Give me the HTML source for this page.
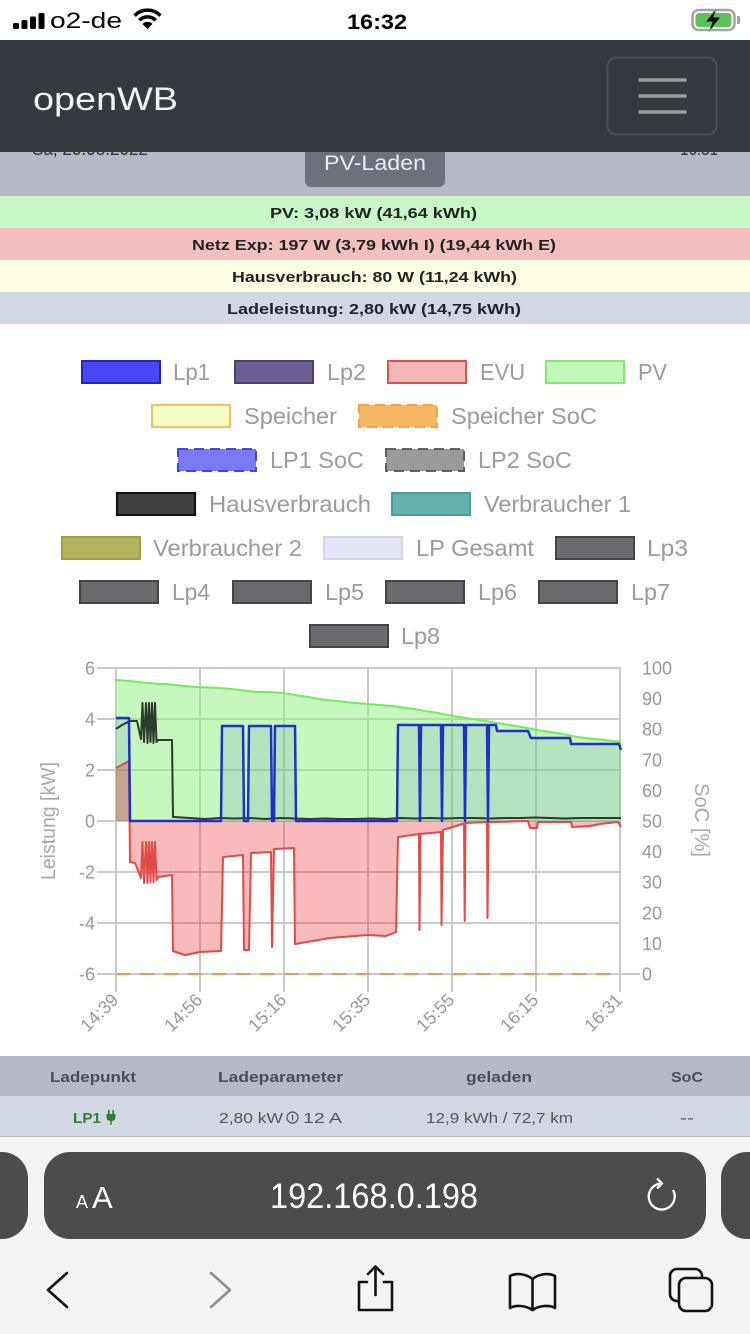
<!DOCTYPE html>
<html><head><meta charset="utf-8"><style>
html,body{margin:0;padding:0;background:#fff;}
svg{display:block;}
text{font-family:"Liberation Sans",sans-serif;}
</style></head><body>
<svg width="750" height="1334" viewBox="0 0 750 1334" xmlns="http://www.w3.org/2000/svg">
<!-- status bar -->
<rect x="0" y="0" width="750" height="40" fill="#fff"/>
<rect x="13" y="23" width="6" height="6" rx="1.5" fill="#000"/>
<rect x="21.5" y="20" width="6" height="9" rx="1.5" fill="#000"/>
<rect x="30" y="16.5" width="6" height="12.5" rx="1.5" fill="#000"/>
<rect x="38.5" y="13" width="6" height="16" rx="1.5" fill="#000"/>
<text x="50" y="28" font-size="22" textLength="72" lengthAdjust="spacingAndGlyphs" fill="#000">o2-de</text>
<path d="M147.5,29 L142.5,24 A7,7 0 0,1 152.5,24 Z" fill="#000"/>
<path d="M139.3,20.3 A11.5,11.5 0 0,1 155.7,20.3" stroke="#000" stroke-width="3.5" fill="none"/>
<path d="M134.6,15.6 A18,18 0 0,1 160.4,15.6" stroke="#000" stroke-width="3.5" fill="none"/>
<text x="347" y="29" font-size="21" font-weight="bold" textLength="60" lengthAdjust="spacingAndGlyphs" fill="#000">16:32</text>
<rect x="692.5" y="10" width="42" height="20" rx="6" fill="none" stroke="#a3a3a3" stroke-width="2.5"/>
<rect x="695.5" y="13" width="36" height="14" rx="3.5" fill="#5cc05c"/>
<path d="M737,16 h1.5 a1.5,1.5 0 0 1 1.5,1.5 v5 a1.5,1.5 0 0 1 -1.5,1.5 h-1.5 z" fill="#a3a3a3"/>
<path d="M716,9 L705,22 L712,22 L709,32 L721,17 L714,17 Z" fill="#000" stroke="#5cc05c" stroke-width="1"/>

<!-- gray bar + hidden date -->
<rect x="0" y="140" width="750" height="56" fill="#b6bac8"/>
<text x="32" y="155" font-size="18" fill="#333" textLength="116" lengthAdjust="spacingAndGlyphs">Sa, 20.08.2022</text>
<text x="680" y="155" font-size="18" fill="#333" textLength="38" lengthAdjust="spacingAndGlyphs">16:31</text>
<rect x="305" y="120" width="140" height="67" rx="6" fill="#6c717c"/>
<text x="324" y="170" font-size="21" fill="#eceded" textLength="102" lengthAdjust="spacingAndGlyphs">PV-Laden</text>

<!-- header -->
<rect x="0" y="40" width="750" height="112" fill="#343a40"/>
<text x="33" y="110" font-size="32" fill="#f4f4f4" textLength="145" lengthAdjust="spacingAndGlyphs">openWB</text>
<rect x="607.5" y="57.5" width="109" height="77" rx="9" fill="none" stroke="#4c5258" stroke-width="2"/>
<line x1="640" y1="80" x2="685" y2="80" stroke="#9a9c9f" stroke-width="3.5" stroke-linecap="round"/>
<line x1="640" y1="96" x2="685" y2="96" stroke="#9a9c9f" stroke-width="3.5" stroke-linecap="round"/>
<line x1="640" y1="112" x2="685" y2="112" stroke="#9a9c9f" stroke-width="3.5" stroke-linecap="round"/>

<!-- info bars -->
<rect x="0" y="196" width="750" height="32" fill="#c8f8c5"/>
<rect x="0" y="228" width="750" height="32" fill="#f3bfbf"/>
<rect x="0" y="260" width="750" height="32" fill="#fefee2"/>
<rect x="0" y="292" width="750" height="32" fill="#d1d7e4"/>
<g font-size="15" font-weight="bold" fill="#1f2326">
<text x="270" y="218" textLength="207" lengthAdjust="spacingAndGlyphs">PV: 3,08 kW (41,64 kWh)</text>
<text x="192" y="250" textLength="364" lengthAdjust="spacingAndGlyphs">Netz Exp: 197 W (3,79 kWh I) (19,44 kWh E)</text>
<text x="232" y="282" textLength="285" lengthAdjust="spacingAndGlyphs">Hausverbrauch: 80 W (11,24 kWh)</text>
<text x="227" y="314" textLength="294" lengthAdjust="spacingAndGlyphs">Ladeleistung: 2,80 kW (14,75 kWh)</text>
</g>

<!-- legend -->
<g stroke-width="2">
<rect x="82" y="361" width="78" height="22" fill="#4848f4" stroke="#2424c4"/>
<rect x="235" y="361" width="78" height="22" fill="#6a5e94" stroke="#4a4070"/>
<rect x="388" y="361" width="78" height="22" fill="#f4b8b8" stroke="#e05050"/>
<rect x="546" y="361" width="78" height="22" fill="#c2f8b8" stroke="#84e874"/>
<rect x="152" y="405" width="78" height="22" fill="#f9fcc2" stroke="#f0c064"/>
<rect x="359" y="405" width="78" height="22" fill="#f4b862" stroke="#f0a444" stroke-dasharray="10,6"/>
<rect x="178" y="449" width="78" height="22" fill="#7a7af6" stroke="#4444e4" stroke-dasharray="10,6"/>
<rect x="386" y="449" width="78" height="22" fill="#9a9a9a" stroke="#606060" stroke-dasharray="10,6"/>
<rect x="117" y="493" width="78" height="22" fill="#404040" stroke="#111"/>
<rect x="392" y="493" width="78" height="22" fill="#66b0b0" stroke="#44a0a0"/>
<rect x="62" y="537" width="78" height="22" fill="#b4b460" stroke="#a0a040"/>
<rect x="324" y="537" width="78" height="22" fill="#e4e4fa" stroke="#d4d4e4"/>
<rect x="556" y="537" width="78" height="22" fill="#6a6a6e" stroke="#454548"/>
<rect x="80" y="581" width="78" height="22" fill="#6a6a6e" stroke="#454548"/>
<rect x="233" y="581" width="78" height="22" fill="#6a6a6e" stroke="#454548"/>
<rect x="386" y="581" width="78" height="22" fill="#6a6a6e" stroke="#454548"/>
<rect x="539" y="581" width="78" height="22" fill="#6a6a6e" stroke="#454548"/>
<rect x="310" y="625" width="78" height="22" fill="#6a6a6e" stroke="#454548"/>
</g>
<g font-size="23" fill="#9b9b9b">
<text x="173" y="380" textLength="37" lengthAdjust="spacingAndGlyphs">Lp1</text>
<text x="327" y="380" textLength="39" lengthAdjust="spacingAndGlyphs">Lp2</text>
<text x="480" y="380" textLength="45" lengthAdjust="spacingAndGlyphs">EVU</text>
<text x="638" y="380" textLength="29" lengthAdjust="spacingAndGlyphs">PV</text>
<text x="244" y="424" textLength="93" lengthAdjust="spacingAndGlyphs">Speicher</text>
<text x="451" y="424" textLength="146" lengthAdjust="spacingAndGlyphs">Speicher SoC</text>
<text x="270" y="468" textLength="94" lengthAdjust="spacingAndGlyphs">LP1 SoC</text>
<text x="478" y="468" textLength="94" lengthAdjust="spacingAndGlyphs">LP2 SoC</text>
<text x="209" y="512" textLength="162" lengthAdjust="spacingAndGlyphs">Hausverbrauch</text>
<text x="484" y="512" textLength="147" lengthAdjust="spacingAndGlyphs">Verbraucher 1</text>
<text x="153" y="556" textLength="149" lengthAdjust="spacingAndGlyphs">Verbraucher 2</text>
<text x="416" y="556" textLength="118" lengthAdjust="spacingAndGlyphs">LP Gesamt</text>
<text x="647" y="556" textLength="41" lengthAdjust="spacingAndGlyphs">Lp3</text>
<text x="172" y="600" textLength="38" lengthAdjust="spacingAndGlyphs">Lp4</text>
<text x="325" y="600" textLength="39" lengthAdjust="spacingAndGlyphs">Lp5</text>
<text x="478" y="600" textLength="39" lengthAdjust="spacingAndGlyphs">Lp6</text>
<text x="631" y="600" textLength="39" lengthAdjust="spacingAndGlyphs">Lp7</text>
<text x="401" y="644" textLength="39" lengthAdjust="spacingAndGlyphs">Lp8</text>
</g>

<!-- chart grid -->
<g stroke="#cacaca" stroke-width="2">
<line x1="97" y1="668" x2="621" y2="668"/>
<line x1="97" y1="719" x2="621" y2="719"/>
<line x1="97" y1="770" x2="621" y2="770"/>
<line x1="97" y1="821" x2="621" y2="821"/>
<line x1="97" y1="872" x2="621" y2="872"/>
<line x1="97" y1="923" x2="621" y2="923"/>
<line x1="97" y1="974" x2="640" y2="974"/>
<line x1="116" y1="668" x2="116" y2="992"/>
<line x1="200" y1="668" x2="200" y2="992"/>
<line x1="284" y1="668" x2="284" y2="992"/>
<line x1="368" y1="668" x2="368" y2="992"/>
<line x1="452" y1="668" x2="452" y2="992"/>
<line x1="536" y1="668" x2="536" y2="992"/>
<line x1="620" y1="668" x2="620" y2="992"/>
</g>

<!-- fills -->
<polygon fill="rgba(140,240,128,0.5)" points="116,821 116,680 122,680.5 128,681 135,681.5 142,682.5 150,683 158,684 166,684 175,685 185,686 197,687 208,687.5 220,688 232,689 244,690.5 256,692 268,692 283,693 292,694.5 302,696 314,698 326,700 338,701 350,702.5 362,703.5 368,704 380,705 392,706 403,707.5 414,709 425,711 438,713 453,716 466,718 480,720 494,722.5 510,725 524,727.5 537,730 550,732 563,734 577,737 590,738.5 605,740 621,742 621,821"/>
<polygon fill="rgba(30,60,200,0.1)" points="116,821 116,718 129,718 130,821 221,821 222,726 243,726 244,821 248,821 249,726 271,726 272,821 274,821 275,726 295,726 296,821 397,821 398,725 419,725 420,821 421,725 441,725 442,821 443,725 464,725 465,821 466,725 487,725 488,821 489,725 496,725 497,731 528,731 531,738 570,738 571,744 619,744 621,750 621,821"/>
<polygon fill="rgba(232,40,40,0.32)" points="116,821 116,768 129,761 130,862 135,863 141,878 142.5,842 144,883 146,842 147.5,883 149,842 150.5,882 152,842 153.5,882 155,842 156.5,880 158,877 172,875 173,951 185,955 200,952 221,951 223,857 243,855 244,950 249,950 251,853 271,852 272,947 274,849 294,848 295,944 330,938 368,935 386,936 396,932 398,837 419,834 419.5,930 420.5,834 441,832 441.5,925 443,830 464,823.5 464.7,921 465.5,823 487,822 487.5,918 488.5,822 496,822 528,821 530,828 537,828 538,822 571,822 572,827 590,826 600,824 618,822 621,827 621,821"/>

<!-- soc dashed -->
<line x1="116" y1="974" x2="620" y2="974" stroke="#e8985a" stroke-width="2" stroke-dasharray="14,10"/>

<!-- lines -->
<polyline fill="none" stroke="#74ea60" stroke-width="2" points="116,680 122,680.5 128,681 135,681.5 142,682.5 150,683 158,684 166,684 175,685 185,686 197,687 208,687.5 220,688 232,689 244,690.5 256,692 268,692 283,693 292,694.5 302,696 314,698 326,700 338,701 350,702.5 362,703.5 368,704 380,705 392,706 403,707.5 414,709 425,711 438,713 453,716 466,718 480,720 494,722.5 510,725 524,727.5 537,730 550,732 563,734 577,737 590,738.5 605,740 621,742"/>
<polyline fill="none" stroke="#e24a48" stroke-width="2" stroke-linejoin="round" points="116,768 129,761 130,862 135,863 141,878 142.5,842 144,883 146,842 147.5,883 149,842 150.5,882 152,842 153.5,882 155,842 156.5,880 158,877 172,875 173,951 185,955 200,952 221,951 223,857 243,855 244,950 249,950 251,853 271,852 272,947 274,849 294,848 295,944 330,938 368,935 386,936 396,932 398,837 419,834 419.5,930 420.5,834 441,832 441.5,925 443,830 464,823.5 464.7,921 465.5,823 487,822 487.5,918 488.5,822 496,822 528,821 530,828 537,828 538,822 571,822 572,827 590,826 600,824 618,822 621,827"/>
<polyline fill="none" stroke="#2c3a2c" stroke-width="2" stroke-linejoin="round" points="116,729 122,725 130,721 137,721 141,739 142.5,703 144,742 146,703 147.5,743 149,703 150.5,742 152,703 153.5,743 155,703 156.5,742 158,740 172,740 173,817 190,818 205,819 220,818 235,818.5 250,818 265,819 280,818 295,818.5 310,819 325,818.5 340,819 355,819 370,818.5 385,819 400,818 415,818.5 430,818 445,818.5 460,818 475,818 490,818.5 505,818 520,818 535,817.5 550,818 565,818.5 580,818 595,818 610,818 621,818"/>
<polyline fill="none" stroke="#2030c6" stroke-width="2.5" stroke-linejoin="round" points="116,718 129,718 130,821 221,821 222,726 243,726 244,821 248,821 249,726 271,726 272,821 274,821 275,726 295,726 296,821 397,821 398,725 419,725 420,821 421,725 441,725 442,821 443,725 464,725 465,821 466,725 487,725 488,821 489,725 496,725 497,731 528,731 531,738 570,738 571,744 619,744 621,750"/>

<!-- axis labels -->
<g font-size="18" fill="#999" text-anchor="end">
<text x="95" y="674.5">6</text>
<text x="95" y="725.5">4</text>
<text x="95" y="776.5">2</text>
<text x="95" y="827.5">0</text>
<text x="95" y="878.5">-2</text>
<text x="95" y="929.5">-4</text>
<text x="95" y="980.5">-6</text>
</g>
<g font-size="18" fill="#999">
<text x="642" y="674.5">100</text>
<text x="642" y="705.1">90</text>
<text x="642" y="735.7">80</text>
<text x="642" y="766.3">70</text>
<text x="642" y="796.9">60</text>
<text x="642" y="827.5">50</text>
<text x="642" y="858.1">40</text>
<text x="642" y="888.7">30</text>
<text x="642" y="919.3">20</text>
<text x="642" y="949.9">10</text>
<text x="642" y="980.5">0</text>
</g>
<g font-size="18" fill="#999" text-anchor="end">
<text x="119.5" y="1001" transform="rotate(-45 119.5 1001)">14:39</text>
<text x="203.5" y="1001" transform="rotate(-45 203.5 1001)">14:56</text>
<text x="287.5" y="1001" transform="rotate(-45 287.5 1001)">15:16</text>
<text x="371.5" y="1001" transform="rotate(-45 371.5 1001)">15:35</text>
<text x="455.5" y="1001" transform="rotate(-45 455.5 1001)">15:55</text>
<text x="539.5" y="1001" transform="rotate(-45 539.5 1001)">16:15</text>
<text x="623.5" y="1001" transform="rotate(-45 623.5 1001)">16:31</text>
</g>
<text x="55" y="821" font-size="20" fill="#a8a8a8" text-anchor="middle" textLength="118" lengthAdjust="spacingAndGlyphs" transform="rotate(-90 55 821)">Leistung [kW]</text>
<text x="695" y="820" font-size="20" fill="#a8a8a8" text-anchor="middle" textLength="74" lengthAdjust="spacingAndGlyphs" transform="rotate(90 695 820)">SoC [%]</text>

<!-- table -->
<rect x="0" y="1056" width="750" height="40" fill="#b6bac8"/>
<rect x="0" y="1096" width="750" height="40" fill="#d1d7e4"/>
<line x1="0" y1="1136.5" x2="750" y2="1136.5" stroke="#b4b6bc" stroke-width="1"/>
<g font-size="15" font-weight="bold" fill="#4a4d55">
<text x="50" y="1082" textLength="86" lengthAdjust="spacingAndGlyphs">Ladepunkt</text>
<text x="218" y="1082" textLength="125" lengthAdjust="spacingAndGlyphs">Ladeparameter</text>
<text x="466" y="1082" textLength="66" lengthAdjust="spacingAndGlyphs">geladen</text>
<text x="671" y="1082" textLength="32" lengthAdjust="spacingAndGlyphs">SoC</text>
</g>
<text x="73" y="1123" font-size="15" font-weight="bold" fill="#2e7d32" textLength="28" lengthAdjust="spacingAndGlyphs">LP1</text>
<g fill="#2e7d32">
<rect x="108" y="1110" width="1.6" height="4"/>
<rect x="112.4" y="1110" width="1.6" height="4"/>
<path d="M106.5,1114 H115.5 V1117 Q115.5,1121 111,1121 Q106.5,1121 106.5,1117 Z"/>
<rect x="110.3" y="1120" width="1.4" height="5"/>
</g>
<g font-size="15" fill="#555">
<text x="219" y="1123" textLength="64" lengthAdjust="spacingAndGlyphs">2,80 kW</text>
<text x="303" y="1123" textLength="39" lengthAdjust="spacingAndGlyphs">12 A</text>
<text x="426" y="1123" textLength="147" lengthAdjust="spacingAndGlyphs">12,9 kWh / 72,7 km</text>
<text x="680" y="1123" textLength="14" lengthAdjust="spacingAndGlyphs">--</text>
</g>
<circle cx="292.5" cy="1117.5" r="5.5" fill="none" stroke="#555" stroke-width="1.2"/>
<line x1="292.5" y1="1114.5" x2="292.5" y2="1120.5" stroke="#555" stroke-width="1.2"/>

<!-- browser chrome -->
<rect x="0" y="1137" width="750" height="197" fill="#f4f4f4"/>
<rect x="-40" y="1152" width="68" height="87" rx="26" fill="#4c4c4c"/>
<rect x="721" y="1152" width="70" height="87" rx="26" fill="#4c4c4c"/>
<rect x="44" y="1152" width="662" height="87" rx="26" fill="#4c4c4c"/>
<text x="76" y="1208" font-size="18" fill="#fff">A</text>
<text x="92" y="1208" font-size="31" fill="#fff">A</text>
<text x="270" y="1208" font-size="35" fill="#fff" textLength="208" lengthAdjust="spacingAndGlyphs">192.168.0.198</text>
<path d="M661.5,1183.5 A13,13 0 1,0 673,1190" fill="none" stroke="#fff" stroke-width="2.3"/>
<path d="M657,1178.5 L662,1183.5 L657,1188.5" fill="none" stroke="#fff" stroke-width="2.3"/>

<g fill="none" stroke="#111" stroke-width="2.6" stroke-linecap="round" stroke-linejoin="round">
<polyline points="67,1273 48,1290 67,1307"/>
<polyline points="211,1273 230,1290 211,1307" stroke="#8e8e8e"/>
<path d="M367,1282 H359 V1310 H392 V1282 H384"/>
<line x1="375.5" y1="1267" x2="375.5" y2="1295"/>
<polyline points="368,1274 375.5,1266.5 383,1274"/>
<path d="M532.5,1279 C525,1273 515,1273 510,1276 V1308 C515,1305 525,1305 532.5,1310 C540,1305 550,1305 555,1308 V1276 C550,1273 540,1273 532.5,1279 Z"/>
<line x1="532.5" y1="1279" x2="532.5" y2="1310"/>
<rect x="670" y="1269" width="32" height="32" rx="7"/>
<rect x="679" y="1278" width="33" height="33" rx="7" fill="#f4f4f4"/>
</g>
</svg>
</body></html>
